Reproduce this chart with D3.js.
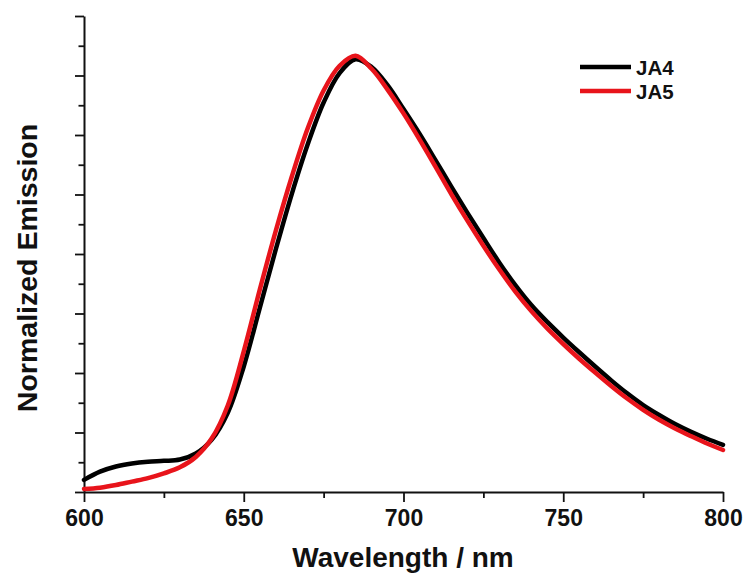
<!DOCTYPE html>
<html>
<head>
<meta charset="utf-8">
<script src="https://cdn.jsdelivr.net/npm/d3@7"></script>
<style>
  html, body { margin: 0; padding: 0; background: #fff; }
  svg { display: block; font-family: "Liberation Sans", Arial, sans-serif; }
</style>
</head>
<body>
<svg id="chart" width="746" height="581"></svg>
<script>
const wavelengths = [600,605,610,615,620,625,630,635,640,645,650,655,660,665,670,675,680,685,690,695,700,705,710,715,720,725,730,735,740,745,750,755,760,765,770,775,780,785,790,795,800];
const ja4 = [0.028,0.047,0.059,0.066,0.070,0.072,0.075,0.089,0.121,0.183,0.290,0.425,0.560,0.688,0.803,0.900,0.968,1.000,0.982,0.940,0.885,0.828,0.767,0.705,0.645,0.587,0.530,0.478,0.432,0.393,0.357,0.323,0.290,0.258,0.228,0.201,0.178,0.157,0.139,0.123,0.109];
const ja5 = [0.007,0.010,0.016,0.024,0.032,0.043,0.057,0.081,0.124,0.200,0.325,0.467,0.603,0.728,0.840,0.928,0.985,1.008,0.978,0.930,0.875,0.815,0.752,0.688,0.627,0.569,0.514,0.463,0.418,0.378,0.342,0.308,0.276,0.245,0.216,0.190,0.167,0.147,0.129,0.112,0.097];
const seriesNames = ["JA4", "JA5"];
const seriesColors = ["#000000", "#e8141b"];
const xTickValues = [600, 650, 700, 750, 800];
const xMinorTicks = [625, 675, 725, 775];
const yMax = 1.1;

const svg = d3.select("#chart");
const x = d3.scaleLinear().domain([600, 800]).range([84, 723]);
const y = d3.scaleLinear().domain([0, yMax]).range([492, 16]);

const yTicksAll = d3.range(17).map(i => i * yMax / 16);
const yMajor = yTicksAll.filter((d, i) => i % 2 === 0);
const yMinor = yTicksAll.filter((d, i) => i % 2 === 1);

// X axis
const xAxis = svg.append("g").attr("transform", "translate(0,492)");
xAxis.call(d3.axisBottom(x).tickValues(xTickValues).tickSize(10).tickSizeOuter(0).tickPadding(8).tickFormat(d3.format("d")));
xAxis.append("g").call(d3.axisBottom(x).tickValues(xMinorTicks).tickSize(6).tickSizeOuter(0).tickFormat(""))
  .select(".domain").remove();
xAxis.selectAll(".domain").attr("stroke", "#111").attr("stroke-width", 2);
xAxis.selectAll(".tick line").attr("stroke", "#111").attr("stroke-width", 1.8);
xAxis.selectAll(".tick text").attr("font-size", 23).attr("font-weight", "bold").attr("fill", "#111")
  .attr("font-family", "'Liberation Sans', Arial, sans-serif");

// Y axis
const yAxis = svg.append("g").attr("transform", "translate(84,0)");
yAxis.call(d3.axisLeft(y).tickValues(yMajor).tickSize(9).tickSizeOuter(0).tickFormat(""));
yAxis.append("g").call(d3.axisLeft(y).tickValues(yMinor).tickSize(5.5).tickSizeOuter(0).tickFormat(""))
  .select(".domain").remove();
yAxis.selectAll(".domain").attr("stroke", "#111").attr("stroke-width", 2);
yAxis.selectAll(".tick line").attr("stroke", "#111").attr("stroke-width", 1.8);

// Lines
const line = d3.line().x((d, i) => x(wavelengths[i])).y(d => y(d)).curve(d3.curveCatmullRom.alpha(0.5));
[ja4, ja5].forEach((vals, k) => {
  svg.append("path").datum(vals).attr("d", line)
    .attr("fill", "none").attr("stroke", seriesColors[k]).attr("stroke-width", 4.5)
    .attr("stroke-linejoin", "round").attr("stroke-linecap", "round");
});

// Axis titles
svg.append("text").attr("x", 403).attr("y", 567).attr("text-anchor", "middle")
  .attr("font-size", 28).attr("font-weight", "bold").attr("fill", "#111").text("Wavelength / nm");
svg.append("text").attr("transform", "translate(37,268) rotate(-90)").attr("text-anchor", "middle")
  .attr("font-size", 28.5).attr("font-weight", "bold").attr("fill", "#111").text("Normalized Emission");

// Legend
const legend = svg.append("g");
seriesNames.forEach((name, k) => {
  const ly = 67 + k * 24;
  legend.append("line").attr("x1", 580).attr("x2", 631).attr("y1", ly).attr("y2", ly)
    .attr("stroke", seriesColors[k]).attr("stroke-width", 4.5);
  legend.append("text").attr("x", 636).attr("y", ly + 7.5).attr("font-size", 20.5).attr("font-weight", "bold")
    .attr("fill", "#111").text(name);
});
</script>
</body>
</html>
